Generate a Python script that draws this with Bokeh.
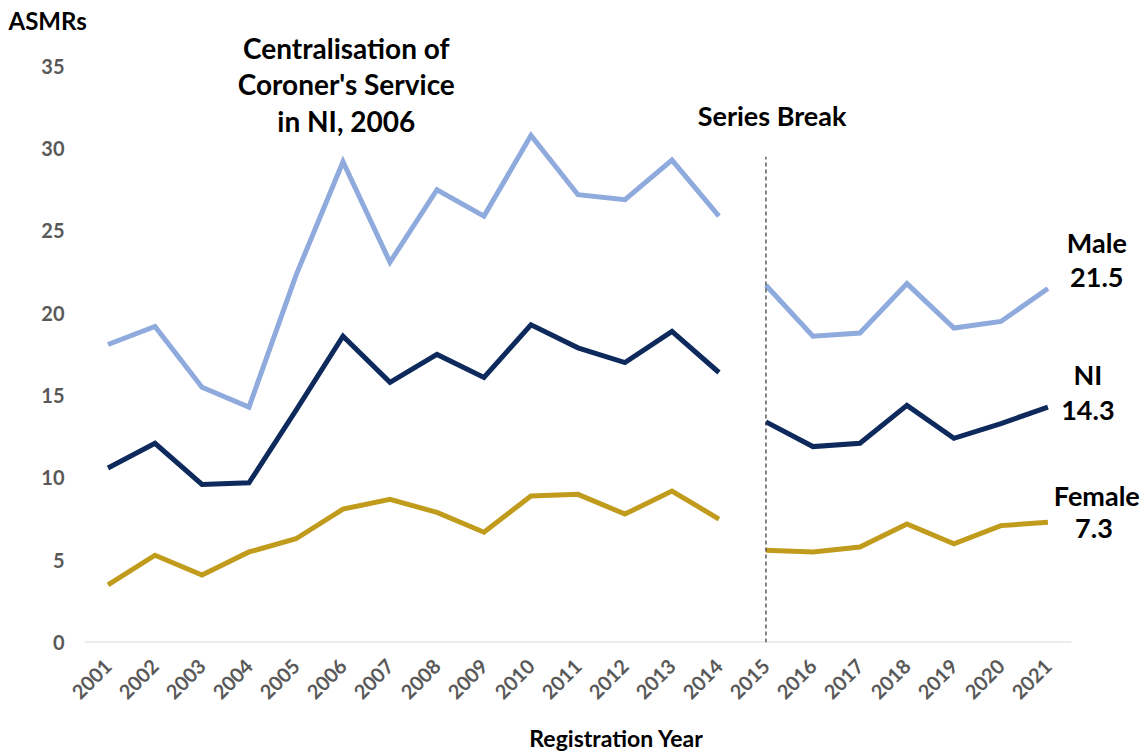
from bokeh.plotting import figure
from bokeh.models import Range1d, FixedTicker, Label, Title
from bokeh.embed import file_html
from bokeh.resources import INLINE
from math import pi

years = list(range(2001, 2022))
male = [18.1, 19.2, 15.5, 14.3, 22.3, 29.2, 23.1, 27.5, 25.9, 30.8, 27.2, 26.9, 29.3, 25.9,
        21.7, 18.6, 18.8, 21.8, 19.1, 19.5, 21.5]
ni = [10.6, 12.1, 9.6, 9.7, 14.1, 18.6, 15.8, 17.5, 16.1, 19.3, 17.9, 17.0, 18.9, 16.4,
      13.4, 11.9, 12.1, 14.4, 12.4, 13.3, 14.3]
female = [3.5, 5.3, 4.1, 5.5, 6.3, 8.1, 8.7, 7.9, 6.7, 8.9, 9.0, 7.8, 9.2, 7.5,
          5.6, 5.5, 5.8, 7.2, 6.0, 7.1, 7.3]
y_ticks = [0, 5, 10, 15, 20, 25, 30, 35]
break_year = 2015
break_top = 29.5

FONT = "Lato"
GREY = "#595959"

p = figure(width=1148, height=754, output_backend="svg", toolbar_location=None,
           x_range=Range1d(years[0] - 0.5, 2023.14), y_range=Range1d(0, 36.93),
           min_border_left=84, min_border_right=0, min_border_top=34, min_border_bottom=111)
p.outline_line_color = None
p.grid.visible = False
p.background_fill_color = "white"
p.border_fill_color = "white"

t = Title(text="ASMRs", align="left", offset=-76, text_font=FONT, text_font_style="bold",
          text_font_size="24px", text_color="black", standoff=0)
p.add_layout(t, "above")

p.xaxis.ticker = FixedTicker(ticks=years)
p.xaxis.major_label_orientation = pi / 4
p.xaxis.axis_line_color = None
p.xaxis.major_tick_line_color = None
p.xaxis.minor_tick_line_color = None
p.xaxis.major_label_text_font = FONT
p.xaxis.major_label_text_font_style = "bold"
p.xaxis.major_label_text_font_size = "20px"
p.xaxis.major_label_text_color = GREY
p.xaxis.major_label_standoff = 14
p.xaxis.axis_label = "Registration Year"
p.xaxis.axis_label_text_font = FONT
p.xaxis.axis_label_text_font_style = "bold"
p.xaxis.axis_label_text_font_size = "23px"
p.xaxis.axis_label_text_color = "black"
p.xaxis.axis_label_standoff = 15

p.yaxis.ticker = FixedTicker(ticks=y_ticks)
p.yaxis.axis_line_color = None
p.yaxis.major_tick_line_color = None
p.yaxis.minor_tick_line_color = None
p.yaxis.major_label_text_font = FONT
p.yaxis.major_label_text_font_style = "bold"
p.yaxis.major_label_text_font_size = "20px"
p.yaxis.major_label_text_color = GREY
p.yaxis.major_label_standoff = 14

# x axis baseline spanning the category band
p.segment(x0=[years[0] - 0.5], y0=[0], x1=[years[-1] + 0.5], y1=[0],
          line_color="#D9D9D9", line_width=2)

n_pre = years.index(break_year)
series = [(male, "#8FAADC"), (ni, "#0E2A5C"), (female, "#C19B1C")]
for vals, col in series:
    p.line(years[:n_pre], vals[:n_pre], line_color=col, line_width=5, line_join="miter")
    p.line(years[n_pre:], vals[n_pre:], line_color=col, line_width=5, line_join="miter")

p.segment(x0=[break_year], y0=[0], x1=[break_year], y1=[break_top],
          line_color="#333333", line_width=1.2, line_dash="4 3")

def lab(text, x, y, size, color="black", align="center"):
    p.add_layout(Label(x=x, y=y, text=text, text_font=FONT, text_font_style="bold",
                       text_font_size=size, text_color=color, text_align=align,
                       text_baseline="middle"))

# annotations
lab("Centralisation of", 2006.07, 36.1, "28px")
lab("Coroner's Service", 2006.07, 33.9, "28px")
lab("in NI, 2006", 2006.07, 31.7, "28px")
lab("Series Break", 2015.13, 32.0, "27px")

lab("Male", 2022.04, 24.3, "27px")
lab(f"{male[-1]}", 2022.04, 22.2, "27px")
lab("NI", 2021.85, 16.3, "27px")
lab(f"{ni[-1]}", 2021.85, 14.1, "27px")
lab("Female", 2022.04, 8.9, "27px")
lab(f"{female[-1]}", 2021.98, 6.9, "27px")

open("out.html", "w").write(file_html(p, INLINE))
